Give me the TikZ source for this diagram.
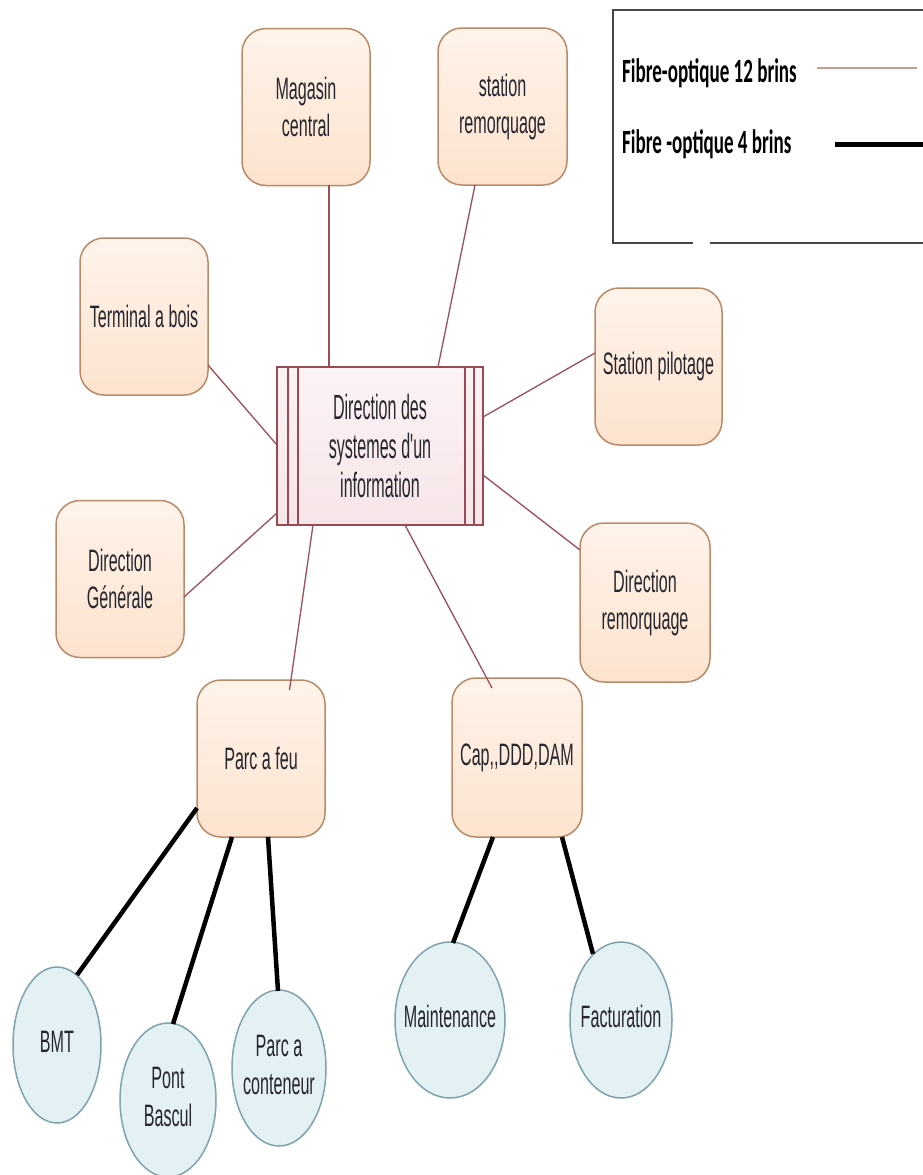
\documentclass[tikz,border=0pt]{standalone}
\usepackage{fontspec}
\newfontfamily\nodefont[FakeStretch=0.52]{Liberation Sans}
\newfontfamily\ctrfont[FakeStretch=0.46]{Liberation Sans}
\newfontfamily\legfont[FakeStretch=0.56]{Carlito}
\usetikzlibrary{shapes.geometric}
\definecolor{peach}{HTML}{FCE3CE}
\definecolor{peachtop}{HTML}{FFF3EA}
\definecolor{peachborder}{HTML}{B98A68}
\definecolor{ctrfill}{HTML}{F7E5E8}
\definecolor{ctrtop}{HTML}{FCF3F4}
\definecolor{ctrborder}{HTML}{9A4A55}
\definecolor{link}{HTML}{9E4E5A}
\definecolor{blueish}{HTML}{E3F1F5}
\definecolor{blueborder}{HTML}{7FA3AC}
\definecolor{txt}{HTML}{26262E}
\definecolor{legthin}{HTML}{C99C8C}
\definecolor{legframe}{HTML}{474747}
\newcommand{\ellipsetext}[1]{\makebox[0pt][c]{\begin{tabular}{@{}c@{}}#1\end{tabular}}}
\tikzset{
  site/.style={rectangle, rounded corners=24pt, draw=peachborder, line width=1.5pt,
    top color=peachtop, bottom color=peach, minimum width=128pt, minimum height=157pt,
    align=center, text=txt, inner sep=2pt, font=\nodefont\fontsize{31}{37}\selectfont},
  hub/.style={rectangle, draw=ctrborder, line width=1.5pt, top color=ctrtop, bottom color=ctrfill,
    minimum width=206pt, minimum height=158pt, align=center, text=txt, inner sep=2pt,
    font=\ctrfont\fontsize{35}{39}\selectfont},
  leaf/.style={ellipse, draw=blueborder, line width=1.5pt, fill=blueish, inner sep=0pt,
    text=txt, font=\nodefont\fontsize{31}{38}\selectfont},
  fiberthin/.style={draw=link, line width=1.3pt},
  fiberthick/.style={draw=black, line width=4.5pt},
  legtext/.style={anchor=base west, inner sep=0pt, text=black,
    font=\legfont\bfseries\fontsize{34}{36}\selectfont},
}
\begin{document}
\begin{tikzpicture}[x=1pt, y=-1pt]
\useasboundingbox (0,0) rectangle (923,1175);
\clip (0,0) rectangle (923,1175);
\fill[white] (0,0) rectangle (923,1175);

% legend
\draw[legframe, line width=2.5pt] (935,10) -- (613,10) -- (613,243) -- (693,243);
\draw[legframe, line width=2.5pt] (710,243) -- (935,243);
\node[legtext] (leg12) at (622,82) {Fibre-optique 12 brins};
\node[legtext] (leg4) at (622,153) {Fibre -optique 4 brins};
\coordinate (leg12a) at (817,68);
\coordinate (leg12b) at (917,68);
\coordinate (leg4a) at (835,144);
\coordinate (leg4b) at (935,144);
\draw[draw=legthin, line width=1.5pt] (leg12a) -- (leg12b);
\draw[draw=black, line width=5pt] (leg4a) -- (leg4b);

% nodes
\node[hub] (ctr) at (380,446) {Direction des\\systemes d'un\\information};
\draw[ctrborder, line width=1.3pt] ([xshift=-92pt]ctr.north) -- ([xshift=-92pt]ctr.south);
\draw[ctrborder, line width=1.3pt] ([xshift=-82pt]ctr.north) -- ([xshift=-82pt]ctr.south);
\draw[ctrborder, line width=1.3pt] ([xshift=85pt]ctr.north) -- ([xshift=85pt]ctr.south);
\draw[ctrborder, line width=1.3pt] ([xshift=94pt]ctr.north) -- ([xshift=94pt]ctr.south);

\node[site] (mag) at (306,107) {Magasin\\central};
\node[site, minimum width=129pt] (sta) at (502.5,106.5) {station\\remorquage};
\node[site] (ter) at (144,316.5) {Terminal a bois};
\node[site, minimum width=127pt] (pil) at (658.5,366.5) {Station pilotage};
\node[site] (dg) at (120,579) {Direction\\Générale};
\node[site, minimum width=130pt, minimum height=159pt] (dr) at (645,602.5) {Direction\\remorquage};
\node[site] (feu) at (261,758.5) {Parc a feu};
\node[site, minimum width=130pt, minimum height=159pt] (cap) at (517,757.5) {Cap,,DDD,DAM};

\node[leaf, minimum width=88pt, minimum height=156pt] (bmt) at (57,1045) {\ellipsetext{BMT}};
\node[leaf, minimum width=96pt, minimum height=154pt] (pont) at (168,1100) {\ellipsetext{Pont\\Bascul}};
\node[leaf, minimum width=94pt, minimum height=156pt] (pcont) at (279,1068) {\ellipsetext{Parc a\\conteneur}};
\node[leaf, minimum width=110pt, minimum height=156pt] (maint) at (450,1020) {\ellipsetext{Maintenance}};
\node[leaf, minimum width=102pt, minimum height=156pt] (fact) at (621,1020) {\ellipsetext{Facturation}};

% 12-strand links
\draw[fiberthin] ([shift={(23,78)}]mag.center) -- ([shift={(-51,-79)}]ctr.center);
\draw[fiberthin] ([shift={(-27.5,78.5)}]sta.center) -- ([shift={(58,-79)}]ctr.center);
\draw[fiberthin] ([shift={(64,48.5)}]ter.center) -- ([shift={(-103,-1)}]ctr.center);
\draw[fiberthin] ([shift={(64,18)}]dg.center) -- ([shift={(-103,67)}]ctr.center);
\draw[fiberthin] ([shift={(-63.5,-13.5)}]pil.center) -- ([shift={(103,-29)}]ctr.center);
\draw[fiberthin] ([shift={(-65,-52.5)}]dr.center) -- ([shift={(103,29)}]ctr.center);
\draw[fiberthin] ([shift={(28.5,-68.5)}]feu.center) -- ([shift={(-67,79)}]ctr.center);
\draw[fiberthin] ([shift={(-25,-69.5)}]cap.center) -- ([shift={(25,79)}]ctr.center);

% 4-strand links
\draw[fiberthick] ([shift={(-64,49.5)}]feu.center) -- ([shift={(20,-70)}]bmt.center);
\draw[fiberthick] ([shift={(-29,78.5)}]feu.center) -- ([shift={(5,-76)}]pont.center);
\draw[fiberthick] ([shift={(7,78.5)}]feu.center) -- ([shift={(-1,-77)}]pcont.center);
\draw[fiberthick] ([shift={(-24,79.5)}]cap.center) -- ([shift={(3,-77)}]maint.center);
\draw[fiberthick] ([shift={(45,79.5)}]cap.center) -- ([shift={(-28,-66)}]fact.center);
\end{tikzpicture}
\end{document}
